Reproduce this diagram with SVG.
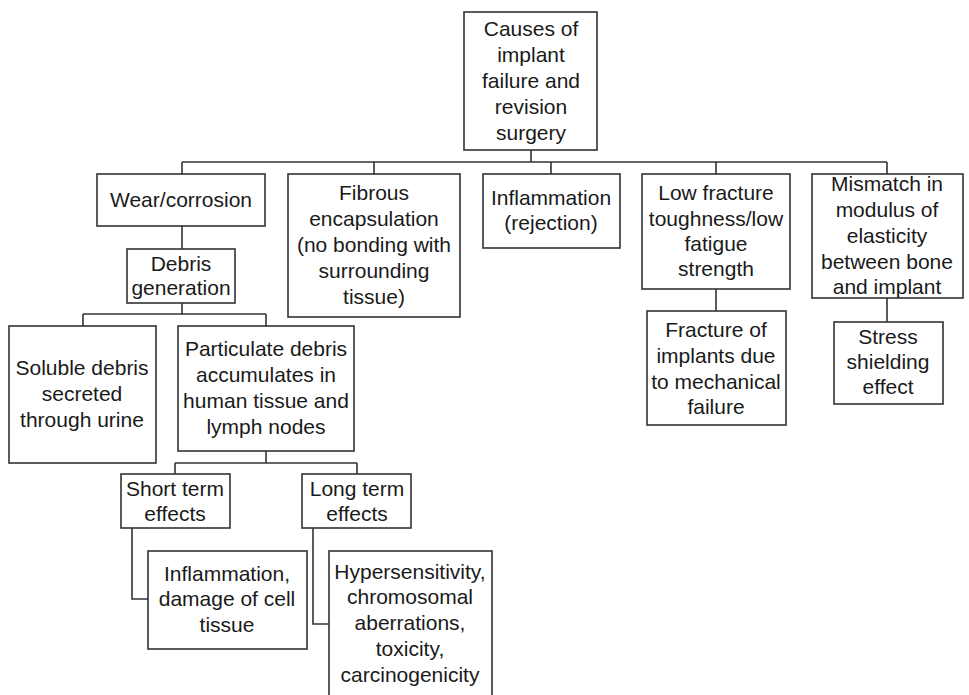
<svg xmlns="http://www.w3.org/2000/svg" width="969" height="695" viewBox="0 0 969 695">
<style>
rect{fill:#fff;stroke:#333;stroke-width:1.6}
text{font-family:"Liberation Sans",Arial,sans-serif;font-size:21px;fill:#1a1a1a;text-anchor:middle}
.c{fill:none;stroke:#333;stroke-width:1.6}
</style>
<rect x="0" y="0" width="969" height="695" style="fill:#fff;stroke:none"/>
<g id="connectors">
<path class="c" d="M531 150V162M182 162H887M182 162V174M374 162V174M551 162V174M716 162V174M887 162V174"/>
<path class="c" d="M716 289V311M887 298V322"/>
<path class="c" d="M182 226V249M182 303V314M83 314H266M83 314V326M266 314V326"/>
<path class="c" d="M266 451V463M175 463H357M175 463V474M357 463V474"/>
<path class="c" d="M132 528V599H148M313 528V624H329"/>
</g>
<g id="root"><rect x="464" y="12" width="133" height="138"/>
<text x="531" y="36">Causes of</text><text x="531" y="62">implant</text><text x="531" y="88">failure and</text><text x="531" y="114">revision</text><text x="531" y="140">surgery</text></g>
<g id="wear"><rect x="97" y="174" width="168" height="52"/><text x="181" y="207">Wear/corrosion</text></g>
<g id="fibrous"><rect x="288" y="174" width="172" height="143"/>
<text x="374" y="200">Fibrous</text><text x="374" y="226">encapsulation</text><text x="374" y="252">(no bonding with</text><text x="374" y="278">surrounding</text><text x="374" y="304">tissue)</text></g>
<g id="inflammation"><rect x="483" y="174" width="137" height="74"/>
<text x="551" y="205">Inflammation</text><text x="551" y="230">(rejection)</text></g>
<g id="lowfracture"><rect x="642" y="174" width="148" height="115"/>
<text x="716" y="200">Low fracture</text><text x="716" y="226">toughness/low</text><text x="716" y="251">fatigue</text><text x="716" y="276">strength</text></g>
<g id="mismatch"><rect x="812" y="174" width="151" height="124"/>
<text x="887" y="191">Mismatch in</text><text x="887" y="217">modulus of</text><text x="887" y="243">elasticity</text><text x="887" y="269">between bone</text><text x="887" y="294">and implant</text></g>
<g id="fracture"><rect x="647" y="311" width="139" height="114"/>
<text x="716" y="337">Fracture of</text><text x="716" y="363">implants due</text><text x="716" y="389">to mechanical</text><text x="716" y="414">failure</text></g>
<g id="stress"><rect x="834" y="322" width="109" height="82"/>
<text x="888" y="344">Stress</text><text x="888" y="369">shielding</text><text x="888" y="394">effect</text></g>
<g id="debris"><rect x="127" y="249" width="108" height="54"/>
<text x="181" y="271">Debris</text><text x="181" y="295">generation</text></g>
<g id="soluble"><rect x="9" y="326" width="147" height="137"/>
<text x="82" y="375">Soluble debris</text><text x="82" y="401">secreted</text><text x="82" y="427">through urine</text></g>
<g id="particulate"><rect x="178" y="326" width="176" height="125"/>
<text x="266" y="356">Particulate debris</text><text x="266" y="382">accumulates in</text><text x="266" y="408">human tissue and</text><text x="266" y="434">lymph nodes</text></g>
<g id="shortterm"><rect x="121" y="474" width="109" height="54"/>
<text x="175" y="496">Short term</text><text x="175" y="521">effects</text></g>
<g id="longterm"><rect x="302" y="474" width="109" height="54"/>
<text x="357" y="496">Long term</text><text x="357" y="521">effects</text></g>
<g id="inflamdamage"><rect x="148" y="551" width="159" height="98"/>
<text x="227" y="581">Inflammation,</text><text x="227" y="606">damage of cell</text><text x="227" y="632">tissue</text></g>
<g id="hyper"><rect x="329" y="551" width="163" height="150"/>
<text x="410" y="579">Hypersensitivity,</text><text x="410" y="604">chromosomal</text><text x="410" y="630">aberrations,</text><text x="410" y="656">toxicity,</text><text x="410" y="682">carcinogenicity</text></g>
</svg>
